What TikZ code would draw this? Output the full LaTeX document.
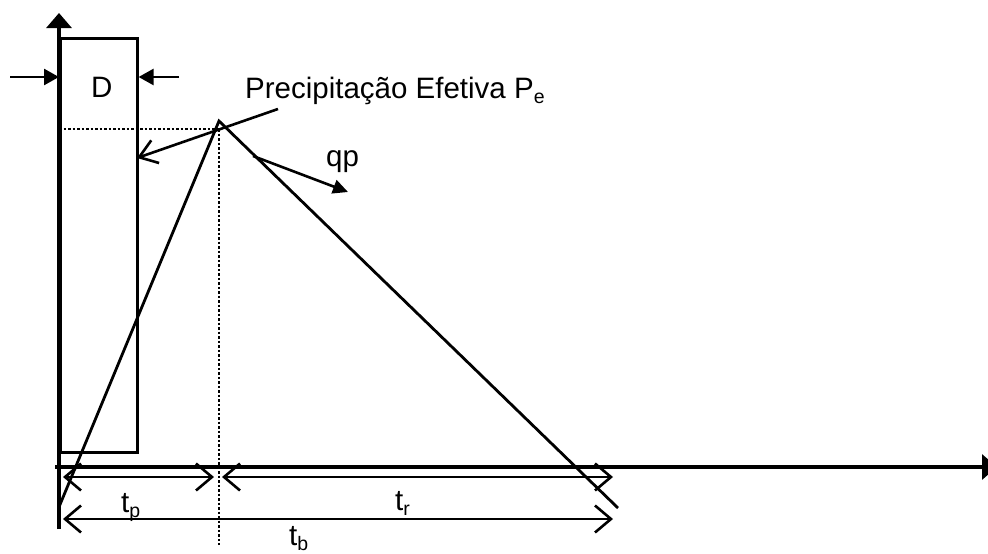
\documentclass[tikz,border=0pt]{standalone}
\usepackage{fontspec}
\setmainfont{Liberation Sans}
\usetikzlibrary{arrows.meta}

\newcommand{\lowsub}[1]{\raisebox{-5pt}{\fontsize{19.5}{20}\selectfont #1}}

\begin{document}
\begin{tikzpicture}[x=1pt,y=-1pt,
    axis/.style={line width=3.2pt,-{Triangle[length=15pt,width=25pt]}},
    dimline/.style={line width=2.6pt,{Straight Barb[length=16pt,width=27pt]}-{Straight Barb[length=16pt,width=27pt]}},
    lbl/.style={font=\fontsize{29.5}{30}\selectfont,inner sep=0pt,anchor=base west}]
  \useasboundingbox (0,0) rectangle (988,554);
  % axes
  \coordinate (ybot) at (59,529);
  \coordinate (ytop) at (59,13);
  \coordinate (xleft) at (55,467);
  \coordinate (xright) at (997,467);
  \draw[axis] (ybot) -- (ytop);
  \draw[axis] (xleft) -- (xright);
  % rain bar of duration D
  \node[draw,line width=2.6pt,minimum width=77pt,minimum height=414pt,inner sep=0pt,anchor=north west] (bar) at (59,37) {};
  \node[lbl] (dlbl) at (91,97) {D};
  \coordinate (dl) at (10,77);
  \coordinate (dr) at (179,77);
  \draw[line width=2.6pt,-{Triangle[length=15pt,width=16pt]}] (dl) -- (dl -| bar.west);
  \draw[line width=2.6pt,-{Triangle[length=15pt,width=16pt]}] (dr) -- (dr -| bar.east);
  % triangular hydrograph
  \coordinate (peak) at (219,121);
  \coordinate (hstart) at (59,507);
  \coordinate (hend) at (618,508);
  \draw[line width=2.8pt] (hstart) -- (peak) -- (hend);
  \coordinate (pk) at (219,129);
  \draw[dotted,line width=2.5pt] (bar.west |- pk) -- (pk);
  \coordinate (pkdown) at (219,545);
  \draw[dotted,line width=2.5pt] (pk) -- (pkdown);
  % labels with leaders
  \node[lbl] (pe) at (245,98) {Precipitação Efetiva P\lowsub{e}};
  \coordinate (pelead) at (278,109);
  \coordinate (petip) at (137,158);
  \draw[line width=2.6pt,-{Straight Barb[length=17pt,width=24pt]}] (pelead) -- (petip);
  \node[lbl] (qp) at (326,166) {qp};
  \coordinate (qpfrom) at (253,156);
  \coordinate (qptip) at (348,192);
  \draw[line width=2.6pt,-{Triangle[length=15pt,width=14pt]}] (qpfrom) -- (qptip);
  % time spans
  \coordinate (tpa) at (63,477);
  \coordinate (tpb) at (214,477);
  \coordinate (tra) at (222,477);
  \coordinate (trb) at (613,477);
  \coordinate (tba) at (63,519);
  \coordinate (tbb) at (613,519);
  \draw[dimline] (tpa) -- (tpb);
  \draw[dimline] (tra) -- (trb);
  \draw[dimline] (tba) -- (tbb);
  \node[lbl] (tp) at (121,512) {t\lowsub{p}};
  \node[lbl] (tr) at (395,510) {t\lowsub{r}};
  \node[lbl] (tb) at (289,545) {t\lowsub{b}};
\end{tikzpicture}
\end{document}
